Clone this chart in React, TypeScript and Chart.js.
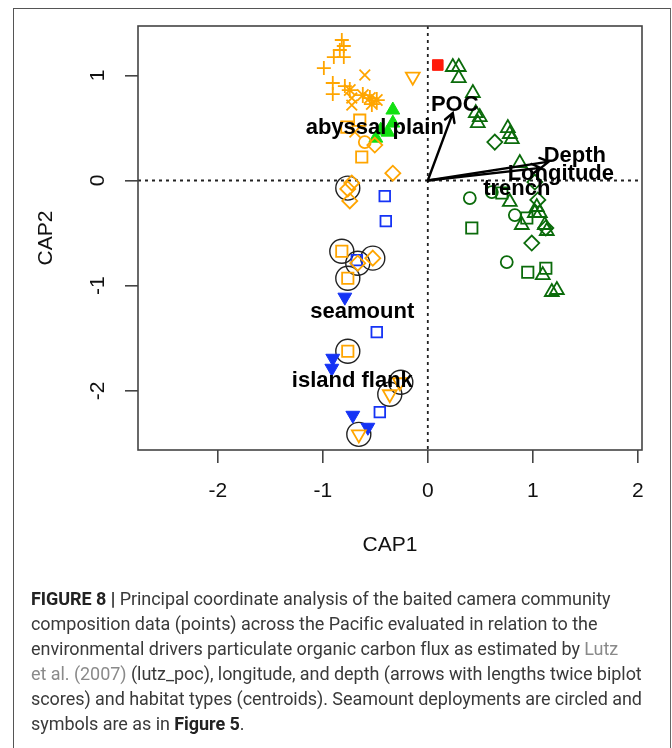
import React, { useEffect, useRef } from "react";
import { Chart, registerables } from "chart.js";

Chart.register(...registerables);

type Pt = { x: number; y: number };
const P = (x: number, y: number): Pt => ({ x, y });

// ---- tick labels ----
const xTicks = [-2, -1, 0, 1, 2];
const yTicks = [-2, -1, 0, 1];

// ---- abyssal plain (orange) ----
const orangePlus = [P(-0.819, 1.336), P(-0.8, 1.279), P(-0.838, 1.241), P(-0.895, 1.174), P(-0.8, 1.174), P(-0.99, 1.069), P(-0.905, 0.927), P(-0.79, 0.898), P(-0.905, 0.822)];
const orangeCross = [P(-0.6, 1.003), P(-0.724, 0.784), P(-0.724, 0.717), P(-0.695, 0.461)];
const orangeStar = [P(-0.743, 0.86), P(-0.619, 0.812), P(-0.552, 0.784), P(-0.486, 0.765), P(-0.533, 0.727)];
const orangeTriDown = [P(-0.143, 0.987), P(-0.267, -1.918), P(-0.362, -2.032), P(-0.657, -2.413)];
const orangeSquare = [P(-0.648, 0.574), P(-0.771, 0.508), P(-0.629, 0.223), P(-0.819, -0.672), P(-0.762, -0.929), P(-0.762, -1.623)];
const orangeCircle = [P(-0.6, 0.365)];
const orangeDiamond = [P(-0.505, 0.337), P(-0.333, 0.07), P(-0.724, -0.023), P(-0.762, -0.08), P(-0.743, -0.194), P(-0.524, -0.738), P(-0.667, -0.786)];

// ---- other groups ----
const greenFilledTri = [P(-0.333, 0.67), P(-0.333, 0.546), P(-0.381, 0.46), P(-0.448, 0.479), P(-0.495, 0.403)];
const redSquare = [P(0.095, 1.098)];

// ---- trench (dark green) ----
const dkTri = [P(0.238, 1.079), P(0.295, 1.079), P(0.295, 0.974), P(0.429, 0.832), P(0.457, 0.641), P(0.495, 0.603), P(0.476, 0.546), P(0.762, 0.499), P(0.781, 0.442), P(0.8, 0.394), P(0.876, 0.166), P(0.781, -0.204), P(0.895, -0.423), P(1.038, -0.252), P(1.067, -0.309), P(1.019, -0.309), P(1.114, -0.423), P(1.133, -0.48), P(1.095, -0.899), P(1.181, -1.06), P(1.229, -1.041)];
const dkDiamond = [P(0.638, 0.365), P(1.019, -0.015), P(1.048, -0.185), P(1.124, -0.451), P(0.99, -0.595)];
const dkCircle = [P(0.4, -0.167), P(0.61, -0.11), P(0.829, -0.329), P(0.752, -0.775)];
const dkSquare = [P(0.705, -0.119), P(0.419, -0.451), P(0.943, -0.356), P(0.952, -0.872), P(1.124, -0.834)];

// ---- seamount / island flank (blue) ----
const blueSquare = [P(-0.41, -0.148), P(-0.4, -0.386), P(-0.676, -0.757), P(-0.486, -1.441), P(-0.457, -2.202)];
const blueFilledTriDown = [P(-0.79, -1.109), P(-0.905, -1.69), P(-0.914, -1.785), P(-0.714, -2.232), P(-0.571, -2.346)];

// ---- seamount deployments (circled) ----
const seamountCircles = [P(-0.762, -0.072), P(-0.819, -0.672), P(-0.667, -0.786), P(-0.524, -0.738), P(-0.762, -0.929), P(-0.762, -1.623), P(-0.257, -1.918), P(-0.362, -2.032), P(-0.657, -2.413)];

// ---- biplot arrows ----
const arrowNames = ["POC", "Depth", "Longitude"];
const arrowX = [0.238, 1.152, 1.075];
const arrowY = [0.641, 0.18, 0.12];
const arrowLabelX = [0.257, 1.4, 1.267];
const arrowLabelY = [0.717, 0.232, 0.061];

// ---- centroids ----
const centroidNames = ["abyssal plain", "trench", "seamount", "island flank"];
const centroidX = [-0.505, 0.848, -0.624, -0.719];
const centroidY = [0.499, -0.08, -1.252, -1.908];

const ORANGE = "#ffa500";
const DKGREEN = "#0b6b0b";
const GREEN = "#11e011";
const BLUE = "#1533f5";
const RED = "#ff1a0a";

function ds(data: Pt[], style: string, color: string, radius: number, filled = false, rotation = 0) {
  return {
    data,
    pointStyle: style,
    pointRadius: radius,
    pointHoverRadius: radius,
    pointRotation: rotation,
    pointBorderColor: color,
    pointBackgroundColor: filled ? color : "rgba(0,0,0,0)",
    pointBorderWidth: filled ? 1 : 1.8,
    showLine: false,
  };
}

const overlay = {
  id: "overlay",
  beforeDatasetsDraw(chart: any) {
    const { ctx, chartArea: a, scales } = chart;
    const x0 = scales.x.getPixelForValue(0);
    const y0 = scales.y.getPixelForValue(0);
    ctx.save();
    ctx.beginPath();
    ctx.rect(a.left, a.top, a.width, a.height);
    ctx.clip();
    ctx.setLineDash([3, 4]);
    ctx.lineWidth = 1.8;
    ctx.strokeStyle = "#222";
    ctx.beginPath();
    ctx.moveTo(x0, a.top);
    ctx.lineTo(x0, a.bottom);
    ctx.moveTo(a.left, y0);
    ctx.lineTo(a.right, y0);
    ctx.stroke();
    ctx.restore();
  },
  afterDatasetsDraw(chart: any) {
    const { ctx, scales } = chart;
    const sx = scales.x, sy = scales.y;
    const x0 = sx.getPixelForValue(0);
    const y0 = sy.getPixelForValue(0);
    ctx.save();
    ctx.strokeStyle = "#000";
    ctx.lineWidth = 2.4;
    ctx.lineCap = "round";
    for (let i = 0; i < arrowNames.length; i++) {
      const tx = sx.getPixelForValue(arrowX[i]);
      const ty = sy.getPixelForValue(arrowY[i]);
      const ang = Math.atan2(ty - y0, tx - x0);
      const L = 10;
      ctx.beginPath();
      ctx.moveTo(x0, y0);
      ctx.lineTo(tx, ty);
      ctx.moveTo(tx - L * Math.cos(ang - Math.PI / 6), ty - L * Math.sin(ang - Math.PI / 6));
      ctx.lineTo(tx, ty);
      ctx.lineTo(tx - L * Math.cos(ang + Math.PI / 6), ty - L * Math.sin(ang + Math.PI / 6));
      ctx.stroke();
    }
    ctx.fillStyle = "#000";
    ctx.font = 'bold 22px "Liberation Sans", Arial, sans-serif';
    ctx.textAlign = "center";
    ctx.textBaseline = "middle";
    for (let i = 0; i < arrowNames.length; i++) {
      ctx.fillText(arrowNames[i], sx.getPixelForValue(arrowLabelX[i]), sy.getPixelForValue(arrowLabelY[i]));
    }
    for (let i = 0; i < centroidNames.length; i++) {
      ctx.fillText(centroidNames[i], sx.getPixelForValue(centroidX[i]), sy.getPixelForValue(centroidY[i]));
    }
    ctx.restore();
  },
  afterDraw(chart: any) {
    const { ctx, chartArea: a, scales } = chart;
    ctx.save();
    ctx.strokeStyle = "#444";
    ctx.lineWidth = 1.6;
    ctx.strokeRect(a.left, a.top, a.width, a.height);
    ctx.fillStyle = "#111";
    ctx.font = '21px "Liberation Sans", Arial, sans-serif';
    ctx.textAlign = "center";
    ctx.textBaseline = "middle";
    for (const v of xTicks) {
      ctx.fillText(String(v), scales.x.getPixelForValue(v), a.bottom + 41);
    }
    for (const v of yTicks) {
      ctx.save();
      ctx.translate(a.left - 40, scales.y.getPixelForValue(v));
      ctx.rotate(-Math.PI / 2);
      ctx.fillText(String(v), 0, 0);
      ctx.restore();
    }
    ctx.fillText("CAP1", (a.left + a.right) / 2, 545);
    ctx.save();
    ctx.translate(46, (a.top + a.bottom) / 2);
    ctx.rotate(-Math.PI / 2);
    ctx.fillText("CAP2", 0, 0);
    ctx.restore();
    ctx.restore();
  },
};

export default function App() {
  const ref = useRef<HTMLCanvasElement | null>(null);
  useEffect(() => {
    if (!ref.current) return;
    const chart = new Chart(ref.current, {
      type: "scatter",
      data: {
        datasets: [
          ds(orangePlus, "cross", ORANGE, 7),
          ds(orangeCross, "crossRot", ORANGE, 7.5),
          ds(orangeStar, "star", ORANGE, 8),
          ds(orangeTriDown, "triangle", ORANGE, 8, false, 180),
          ds(orangeSquare, "rect", ORANGE, 8),
          ds(orangeCircle, "circle", ORANGE, 6),
          ds(orangeDiamond, "rectRot", ORANGE, 7.5),
          ds(greenFilledTri, "triangle", GREEN, 8, true),
          ds(redSquare, "rect", RED, 7.5, true),
          ds(dkTri, "triangle", DKGREEN, 8),
          ds(dkDiamond, "rectRot", DKGREEN, 7.5),
          ds(dkCircle, "circle", DKGREEN, 6),
          ds(dkSquare, "rect", DKGREEN, 8),
          ds(blueSquare, "rect", BLUE, 7.5),
          ds(blueFilledTriDown, "triangle", BLUE, 8, true, 180),
          { ...ds(seamountCircles, "circle", "#222", 12), pointBorderWidth: 1.4 },
        ] as any,
      },
      options: {
        responsive: false,
        maintainAspectRatio: false,
        animation: false,
        devicePixelRatio: 1,
        events: [],
        layout: { padding: { left: 0, right: 30, top: 26, bottom: 0 } },
        plugins: { legend: { display: false }, tooltip: { enabled: false } },
        scales: {
          x: {
            type: "linear",
            position: "bottom",
            min: -2.76,
            max: 2.04,
            afterBuildTicks: (s: any) => {
              s.ticks = xTicks.map((v) => ({ value: v }));
            },
            afterFit: (s: any) => {
              s.height = 298;
            },
            ticks: { display: false },
            grid: { drawOnChartArea: false, drawTicks: true, tickLength: 13, color: "#444", lineWidth: 1.6 },
            border: { display: false },
          },
          y: {
            type: "linear",
            position: "left",
            min: -2.562,
            max: 1.469,
            afterBuildTicks: (s: any) => {
              s.ticks = yTicks.map((v) => ({ value: v }));
            },
            afterFit: (s: any) => {
              s.width = 138;
            },
            ticks: { display: false },
            grid: { drawOnChartArea: false, drawTicks: true, tickLength: 13, color: "#444", lineWidth: 1.6 },
            border: { display: false },
          },
        },
      } as any,
      plugins: [overlay],
    });
    return () => chart.destroy();
  }, []);

  const grey = { color: "#8a8a8a" };
  const lines: React.ReactNode[] = [
    <><b style={{ color: "#222" }}>FIGURE 8 |</b> Principal coordinate analysis of the baited camera community</>,
    <>composition data (points) across the Pacific evaluated in relation to the</>,
    <>environmental drivers particulate organic carbon flux as estimated by <span style={grey}>Lutz</span></>,
    <><span style={grey}>et al. (2007)</span> (lutz_poc), longitude, and depth (arrows with lengths twice biplot</>,
    <>scores) and habitat types (centroids). Seamount deployments are circled and</>,
    <>symbols are as in <b style={{ color: "#222" }}>Figure 5</b>.</>,
  ];

  return (
    <div style={{ position: "absolute", left: 0, top: 0, width: 672, height: 748, overflow: "hidden", background: "#fff" }}>
      <div
        style={{
          position: "absolute",
          left: 13,
          top: 8,
          width: 658,
          height: 740,
          boxSizing: "border-box",
          borderLeft: "1.5px solid #555",
          borderTop: "1.5px solid #555",
          borderRight: "1.5px solid #666",
        }}
      />
      <canvas ref={ref} width={672} height={748} style={{ position: "absolute", left: 0, top: 0, width: 672, height: 748 }} />
      <div
        style={{
          position: "absolute",
          left: 31,
          top: 586,
          fontFamily: "Roboto, 'Liberation Sans', sans-serif",
          fontSize: 18,
          lineHeight: "25px",
          color: "#3a3a3a",
          whiteSpace: "nowrap",
          letterSpacing: "-0.05px",
        }}
      >
        {lines.map((l, i) => (
          <div key={i}>{l}</div>
        ))}
      </div>
    </div>
  );
}
